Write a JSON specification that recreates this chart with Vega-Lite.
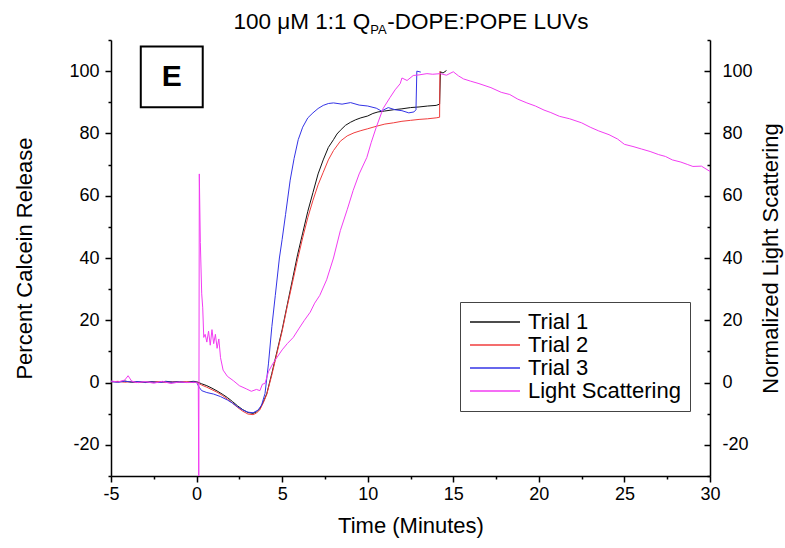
{
  "$schema": "https://vega.github.io/schema/vega-lite/v6.json",
  "width": 599,
  "height": 436,
  "autosize": {"type": "none"},
  "padding": {"left": 111, "top": 40, "right": 75, "bottom": 72},
  "background": "white",
  "config": {
    "view": {"stroke": null},
    "font": "Liberation Sans",
    "axis": {
      "grid": false,
      "domainColor": "black",
      "domainWidth": 1.5,
      "tickColor": "black",
      "tickWidth": 1.5,
      "labelColor": "black",
      "labelFontSize": 18,
      "labelFont": "Liberation Sans",
      "titleFont": "Liberation Sans",
      "titleFontSize": 22,
      "titleFontWeight": "normal",
      "titleColor": "black",
      "labelOverlap": false,
      "labelFlush": false
    }
  },
  "datasets": {
    "one": [{}],
    "curves": [
      {"series": "Trial 1", "time": -5, "value": 0.4},
      {"series": "Trial 1", "time": -4.6, "value": 0.2},
      {"series": "Trial 1", "time": -4.2, "value": 0.5},
      {"series": "Trial 1", "time": -3.8, "value": 0.1},
      {"series": "Trial 1", "time": -3.4, "value": 0.3},
      {"series": "Trial 1", "time": -3, "value": 0.0},
      {"series": "Trial 1", "time": -2.6, "value": 0.3},
      {"series": "Trial 1", "time": -2.2, "value": 0.1},
      {"series": "Trial 1", "time": -1.8, "value": 0.4},
      {"series": "Trial 1", "time": -1.4, "value": 0.2},
      {"series": "Trial 1", "time": -1, "value": 0.3},
      {"series": "Trial 1", "time": -0.6, "value": 0.1},
      {"series": "Trial 1", "time": -0.2, "value": 0.4},
      {"series": "Trial 1", "time": 0, "value": 0.3},
      {"series": "Trial 1", "time": 0.3, "value": -0.4},
      {"series": "Trial 1", "time": 0.6, "value": -1.0},
      {"series": "Trial 1", "time": 0.9, "value": -1.8},
      {"series": "Trial 1", "time": 1.2, "value": -2.7},
      {"series": "Trial 1", "time": 1.5, "value": -3.7},
      {"series": "Trial 1", "time": 1.8, "value": -4.8},
      {"series": "Trial 1", "time": 2.1, "value": -6.1},
      {"series": "Trial 1", "time": 2.4, "value": -7.5},
      {"series": "Trial 1", "time": 2.7, "value": -8.7},
      {"series": "Trial 1", "time": 3.0, "value": -9.6},
      {"series": "Trial 1", "time": 3.3, "value": -9.9},
      {"series": "Trial 1", "time": 3.5, "value": -9.4},
      {"series": "Trial 1", "time": 3.7, "value": -8.4},
      {"series": "Trial 1", "time": 3.9, "value": -6.2},
      {"series": "Trial 1", "time": 4.1, "value": -3.6},
      {"series": "Trial 1", "time": 4.4, "value": 3},
      {"series": "Trial 1", "time": 4.7, "value": 10},
      {"series": "Trial 1", "time": 5.0, "value": 17},
      {"series": "Trial 1", "time": 5.3, "value": 25},
      {"series": "Trial 1", "time": 5.6, "value": 33},
      {"series": "Trial 1", "time": 5.9, "value": 41},
      {"series": "Trial 1", "time": 6.2, "value": 48},
      {"series": "Trial 1", "time": 6.5, "value": 55},
      {"series": "Trial 1", "time": 6.8, "value": 61},
      {"series": "Trial 1", "time": 7.1, "value": 67},
      {"series": "Trial 1", "time": 7.4, "value": 71.5},
      {"series": "Trial 1", "time": 7.7, "value": 75.5},
      {"series": "Trial 1", "time": 8.0, "value": 78},
      {"series": "Trial 1", "time": 8.2, "value": 79.8},
      {"series": "Trial 1", "time": 8.4, "value": 81},
      {"series": "Trial 1", "time": 8.7, "value": 82.6},
      {"series": "Trial 1", "time": 9.0, "value": 83.6},
      {"series": "Trial 1", "time": 9.3, "value": 84.4},
      {"series": "Trial 1", "time": 9.6, "value": 85.0},
      {"series": "Trial 1", "time": 10.0, "value": 85.6},
      {"series": "Trial 1", "time": 10.3, "value": 86.4},
      {"series": "Trial 1", "time": 10.6, "value": 86.9},
      {"series": "Trial 1", "time": 11.0, "value": 87.2},
      {"series": "Trial 1", "time": 11.5, "value": 87.6},
      {"series": "Trial 1", "time": 12.0, "value": 87.9},
      {"series": "Trial 1", "time": 12.5, "value": 88.3},
      {"series": "Trial 1", "time": 13.0, "value": 88.5},
      {"series": "Trial 1", "time": 13.5, "value": 88.8},
      {"series": "Trial 1", "time": 14.0, "value": 89.0},
      {"series": "Trial 1", "time": 14.2, "value": 89.4},
      {"series": "Trial 1", "time": 14.25, "value": 99.8},
      {"series": "Trial 1", "time": 14.4, "value": 99.4},
      {"series": "Trial 1", "time": 14.6, "value": 100.2},

      {"series": "Trial 2", "time": -5, "value": 0.2},
      {"series": "Trial 2", "time": -4.6, "value": 0.4},
      {"series": "Trial 2", "time": -4.2, "value": 0.1},
      {"series": "Trial 2", "time": -3.8, "value": 0.3},
      {"series": "Trial 2", "time": -3.4, "value": 0.0},
      {"series": "Trial 2", "time": -3, "value": 0.2},
      {"series": "Trial 2", "time": -2.6, "value": 0.1},
      {"series": "Trial 2", "time": -2.2, "value": 0.3},
      {"series": "Trial 2", "time": -1.8, "value": 0.0},
      {"series": "Trial 2", "time": -1.4, "value": 0.2},
      {"series": "Trial 2", "time": -1, "value": 0.1},
      {"series": "Trial 2", "time": -0.6, "value": 0.3},
      {"series": "Trial 2", "time": -0.2, "value": 0.0},
      {"series": "Trial 2", "time": 0, "value": 0.1},
      {"series": "Trial 2", "time": 0.3, "value": -0.8},
      {"series": "Trial 2", "time": 0.6, "value": -1.5},
      {"series": "Trial 2", "time": 0.9, "value": -2.3},
      {"series": "Trial 2", "time": 1.2, "value": -3.1},
      {"series": "Trial 2", "time": 1.5, "value": -4.1},
      {"series": "Trial 2", "time": 1.8, "value": -5.3},
      {"series": "Trial 2", "time": 2.1, "value": -6.6},
      {"series": "Trial 2", "time": 2.4, "value": -8.0},
      {"series": "Trial 2", "time": 2.7, "value": -9.2},
      {"series": "Trial 2", "time": 3.0, "value": -10.1},
      {"series": "Trial 2", "time": 3.3, "value": -10.3},
      {"series": "Trial 2", "time": 3.5, "value": -9.8},
      {"series": "Trial 2", "time": 3.7, "value": -8.7},
      {"series": "Trial 2", "time": 3.9, "value": -6.5},
      {"series": "Trial 2", "time": 4.1, "value": -3.8},
      {"series": "Trial 2", "time": 4.4, "value": 2.5},
      {"series": "Trial 2", "time": 4.7, "value": 9.5},
      {"series": "Trial 2", "time": 5.0, "value": 16.5},
      {"series": "Trial 2", "time": 5.3, "value": 24.5},
      {"series": "Trial 2", "time": 5.6, "value": 32},
      {"series": "Trial 2", "time": 5.9, "value": 39.5},
      {"series": "Trial 2", "time": 6.2, "value": 46.5},
      {"series": "Trial 2", "time": 6.5, "value": 53},
      {"series": "Trial 2", "time": 6.8, "value": 58.5},
      {"series": "Trial 2", "time": 7.1, "value": 63.5},
      {"series": "Trial 2", "time": 7.4, "value": 67.5},
      {"series": "Trial 2", "time": 7.7, "value": 71.5},
      {"series": "Trial 2", "time": 8.0, "value": 74.5},
      {"series": "Trial 2", "time": 8.4, "value": 77.5},
      {"series": "Trial 2", "time": 8.8, "value": 79.2},
      {"series": "Trial 2", "time": 9.2, "value": 80.2},
      {"series": "Trial 2", "time": 9.6, "value": 80.9},
      {"series": "Trial 2", "time": 10.0, "value": 81.5},
      {"series": "Trial 2", "time": 10.5, "value": 82.3},
      {"series": "Trial 2", "time": 11.0, "value": 83},
      {"series": "Trial 2", "time": 11.5, "value": 83.4},
      {"series": "Trial 2", "time": 12.0, "value": 83.9},
      {"series": "Trial 2", "time": 12.5, "value": 84.2},
      {"series": "Trial 2", "time": 13.0, "value": 84.5},
      {"series": "Trial 2", "time": 13.5, "value": 84.7},
      {"series": "Trial 2", "time": 14.0, "value": 85},
      {"series": "Trial 2", "time": 14.2, "value": 85.2},
      {"series": "Trial 2", "time": 14.22, "value": 100},

      {"series": "Trial 3", "time": -5, "value": 0.3},
      {"series": "Trial 3", "time": -4.6, "value": 0.1},
      {"series": "Trial 3", "time": -4.2, "value": 0.4},
      {"series": "Trial 3", "time": -3.8, "value": 0.2},
      {"series": "Trial 3", "time": -3.4, "value": 0.3},
      {"series": "Trial 3", "time": -3, "value": 0.1},
      {"series": "Trial 3", "time": -2.6, "value": 0.2},
      {"series": "Trial 3", "time": -2.2, "value": 0.0},
      {"series": "Trial 3", "time": -1.8, "value": 0.3},
      {"series": "Trial 3", "time": -1.4, "value": 0.1},
      {"series": "Trial 3", "time": -1, "value": 0.2},
      {"series": "Trial 3", "time": -0.6, "value": 0.0},
      {"series": "Trial 3", "time": -0.2, "value": 0.2},
      {"series": "Trial 3", "time": 0, "value": 0.1},
      {"series": "Trial 3", "time": 0.15, "value": -1.5},
      {"series": "Trial 3", "time": 0.3, "value": -2.6},
      {"series": "Trial 3", "time": 0.6, "value": -3.2},
      {"series": "Trial 3", "time": 1.0, "value": -3.7},
      {"series": "Trial 3", "time": 1.4, "value": -4.5},
      {"series": "Trial 3", "time": 1.8, "value": -5.6},
      {"series": "Trial 3", "time": 2.1, "value": -6.6},
      {"series": "Trial 3", "time": 2.4, "value": -7.8},
      {"series": "Trial 3", "time": 2.7, "value": -8.8},
      {"series": "Trial 3", "time": 3.0, "value": -9.5},
      {"series": "Trial 3", "time": 3.3, "value": -9.7},
      {"series": "Trial 3", "time": 3.6, "value": -8.8},
      {"series": "Trial 3", "time": 3.8, "value": -7.2},
      {"series": "Trial 3", "time": 4.0, "value": -3.5},
      {"series": "Trial 3", "time": 4.2, "value": 6},
      {"series": "Trial 3", "time": 4.4, "value": 18},
      {"series": "Trial 3", "time": 4.6, "value": 28},
      {"series": "Trial 3", "time": 4.84, "value": 40},
      {"series": "Trial 3", "time": 5.0, "value": 46},
      {"series": "Trial 3", "time": 5.2, "value": 54},
      {"series": "Trial 3", "time": 5.47, "value": 65},
      {"series": "Trial 3", "time": 5.7, "value": 72},
      {"series": "Trial 3", "time": 5.94, "value": 78},
      {"series": "Trial 3", "time": 6.2, "value": 82},
      {"series": "Trial 3", "time": 6.5, "value": 85},
      {"series": "Trial 3", "time": 6.8, "value": 86.6},
      {"series": "Trial 3", "time": 7.1, "value": 88},
      {"series": "Trial 3", "time": 7.4, "value": 89},
      {"series": "Trial 3", "time": 7.7, "value": 89.6},
      {"series": "Trial 3", "time": 8.0, "value": 89.8},
      {"series": "Trial 3", "time": 8.5, "value": 89.4},
      {"series": "Trial 3", "time": 9.0, "value": 89.9},
      {"series": "Trial 3", "time": 9.5, "value": 89.1},
      {"series": "Trial 3", "time": 10.0, "value": 88.8},
      {"series": "Trial 3", "time": 10.5, "value": 88.1},
      {"series": "Trial 3", "time": 10.8, "value": 87.2},
      {"series": "Trial 3", "time": 11.2, "value": 88.3},
      {"series": "Trial 3", "time": 11.6, "value": 87.6},
      {"series": "Trial 3", "time": 12.0, "value": 87.3},
      {"series": "Trial 3", "time": 12.4, "value": 86.6},
      {"series": "Trial 3", "time": 12.7, "value": 86.9},
      {"series": "Trial 3", "time": 12.82, "value": 87.6},
      {"series": "Trial 3", "time": 12.87, "value": 100},
      {"series": "Trial 3", "time": 13.1, "value": 99.7},

      {"series": "Light Scattering", "time": -5, "value": 0.5},
      {"series": "Light Scattering", "time": -4.6, "value": 0.2},
      {"series": "Light Scattering", "time": -4.2, "value": 0.8},
      {"series": "Light Scattering", "time": -4.0, "value": 2.2},
      {"series": "Light Scattering", "time": -3.8, "value": 0.5},
      {"series": "Light Scattering", "time": -3.5, "value": 0.0},
      {"series": "Light Scattering", "time": -3.0, "value": 0.3},
      {"series": "Light Scattering", "time": -2.5, "value": -0.2},
      {"series": "Light Scattering", "time": -2.0, "value": 0.4},
      {"series": "Light Scattering", "time": -1.5, "value": -0.3},
      {"series": "Light Scattering", "time": -1.0, "value": 0.2},
      {"series": "Light Scattering", "time": -0.5, "value": 0.0},
      {"series": "Light Scattering", "time": 0.0, "value": 0.1},
      {"series": "Light Scattering", "time": 0.1, "value": -0.5},
      {"series": "Light Scattering", "time": 0.13, "value": -36},
      {"series": "Light Scattering", "time": 0.16, "value": 67},
      {"series": "Light Scattering", "time": 0.22, "value": 45},
      {"series": "Light Scattering", "time": 0.3, "value": 28.5},
      {"series": "Light Scattering", "time": 0.36, "value": 24},
      {"series": "Light Scattering", "time": 0.42, "value": 14.5},
      {"series": "Light Scattering", "time": 0.5, "value": 15.5},
      {"series": "Light Scattering", "time": 0.6, "value": 13},
      {"series": "Light Scattering", "time": 0.7, "value": 16.5},
      {"series": "Light Scattering", "time": 0.8, "value": 12},
      {"series": "Light Scattering", "time": 0.9, "value": 17},
      {"series": "Light Scattering", "time": 1.0, "value": 12.5},
      {"series": "Light Scattering", "time": 1.1, "value": 15.5},
      {"series": "Light Scattering", "time": 1.2, "value": 11},
      {"series": "Light Scattering", "time": 1.3, "value": 14},
      {"series": "Light Scattering", "time": 1.4, "value": 8},
      {"series": "Light Scattering", "time": 1.55, "value": 4},
      {"series": "Light Scattering", "time": 1.8, "value": 2},
      {"series": "Light Scattering", "time": 2.15, "value": 0.6},
      {"series": "Light Scattering", "time": 2.5, "value": -1},
      {"series": "Light Scattering", "time": 2.9, "value": -2},
      {"series": "Light Scattering", "time": 3.2, "value": -2.8},
      {"series": "Light Scattering", "time": 3.5, "value": -2.2},
      {"series": "Light Scattering", "time": 3.7, "value": -2.6},
      {"series": "Light Scattering", "time": 3.85, "value": -0.5},
      {"series": "Light Scattering", "time": 4.0, "value": -0.3},
      {"series": "Light Scattering", "time": 4.2, "value": 3.5},
      {"series": "Light Scattering", "time": 4.45, "value": 6},
      {"series": "Light Scattering", "time": 4.7, "value": 8.1},
      {"series": "Light Scattering", "time": 5.0, "value": 10.5},
      {"series": "Light Scattering", "time": 5.3, "value": 12.5},
      {"series": "Light Scattering", "time": 5.65, "value": 14.5},
      {"series": "Light Scattering", "time": 6.0, "value": 17.5},
      {"series": "Light Scattering", "time": 6.3, "value": 20},
      {"series": "Light Scattering", "time": 6.64, "value": 22.6},
      {"series": "Light Scattering", "time": 6.9, "value": 25.5},
      {"series": "Light Scattering", "time": 7.2, "value": 28},
      {"series": "Light Scattering", "time": 7.6, "value": 33},
      {"series": "Light Scattering", "time": 8.0, "value": 40},
      {"series": "Light Scattering", "time": 8.4, "value": 48.8},
      {"series": "Light Scattering", "time": 8.8, "value": 55.5},
      {"series": "Light Scattering", "time": 9.15, "value": 61.7},
      {"series": "Light Scattering", "time": 9.5, "value": 67},
      {"series": "Light Scattering", "time": 9.95, "value": 72.3},
      {"series": "Light Scattering", "time": 10.2, "value": 77},
      {"series": "Light Scattering", "time": 10.5, "value": 82},
      {"series": "Light Scattering", "time": 10.9, "value": 88},
      {"series": "Light Scattering", "time": 11.3, "value": 91.5},
      {"series": "Light Scattering", "time": 11.6, "value": 94},
      {"series": "Light Scattering", "time": 11.9, "value": 96},
      {"series": "Light Scattering", "time": 12.0, "value": 97.8},
      {"series": "Light Scattering", "time": 12.3, "value": 97},
      {"series": "Light Scattering", "time": 12.66, "value": 98.6},
      {"series": "Light Scattering", "time": 13.0, "value": 98.8},
      {"series": "Light Scattering", "time": 13.46, "value": 99.2},
      {"series": "Light Scattering", "time": 13.8, "value": 99.0},
      {"series": "Light Scattering", "time": 14.24, "value": 99.2},
      {"series": "Light Scattering", "time": 14.6, "value": 98.7},
      {"series": "Light Scattering", "time": 15.0, "value": 99.8},
      {"series": "Light Scattering", "time": 15.3, "value": 98.5},
      {"series": "Light Scattering", "time": 15.6, "value": 97.5},
      {"series": "Light Scattering", "time": 16.0, "value": 96.8},
      {"series": "Light Scattering", "time": 16.5, "value": 96},
      {"series": "Light Scattering", "time": 17.2, "value": 94.7},
      {"series": "Light Scattering", "time": 17.8, "value": 93.2},
      {"series": "Light Scattering", "time": 18.3, "value": 92.5},
      {"series": "Light Scattering", "time": 18.77, "value": 91},
      {"series": "Light Scattering", "time": 19.3, "value": 89.8},
      {"series": "Light Scattering", "time": 19.8, "value": 88.8},
      {"series": "Light Scattering", "time": 20.3, "value": 87.5},
      {"series": "Light Scattering", "time": 20.7, "value": 86.7},
      {"series": "Light Scattering", "time": 21.2, "value": 85.5},
      {"series": "Light Scattering", "time": 21.8, "value": 84.7},
      {"series": "Light Scattering", "time": 22.5, "value": 83.4},
      {"series": "Light Scattering", "time": 23.0, "value": 82},
      {"series": "Light Scattering", "time": 23.5, "value": 80.8},
      {"series": "Light Scattering", "time": 24.1, "value": 79.6},
      {"series": "Light Scattering", "time": 24.6, "value": 78.2},
      {"series": "Light Scattering", "time": 25.0, "value": 76.5},
      {"series": "Light Scattering", "time": 25.5, "value": 75.8},
      {"series": "Light Scattering", "time": 26.0, "value": 75},
      {"series": "Light Scattering", "time": 26.5, "value": 74.2},
      {"series": "Light Scattering", "time": 27.0, "value": 73.2},
      {"series": "Light Scattering", "time": 27.4, "value": 72.6},
      {"series": "Light Scattering", "time": 27.8, "value": 71.5},
      {"series": "Light Scattering", "time": 28.3, "value": 70.8},
      {"series": "Light Scattering", "time": 28.7, "value": 70},
      {"series": "Light Scattering", "time": 29.0, "value": 69.4},
      {"series": "Light Scattering", "time": 29.5, "value": 69.5},
      {"series": "Light Scattering", "time": 30.0, "value": 67.8}
    ]
  },
  "layer": [
    {
      "data": {"name": "curves"},
      "transform": [{"filter": "datum.series !== 'Light Scattering'"}],
      "mark": {"type": "line", "strokeWidth": 1, "clip": true},
      "encoding": {
        "x": {
          "field": "time", "type": "quantitative",
          "scale": {"domain": [-5, 30], "nice": false, "zero": false},
          "axis": {
            "title": "Time (Minutes)",
            "values": [-5, -2.5, 0, 2.5, 5, 7.5, 10, 12.5, 15, 17.5, 20, 22.5, 25, 27.5, 30],
            "labelExpr": "datum.value % 5 === 0 ? replace(datum.label, '\u2212', '-') : ''",
            "tickSize": {"condition": {"test": "datum.value % 5 !== 0", "value": 3}, "value": 6},
            "labelPadding": 3,
            "titlePadding": 12
          }
        },
        "y": {
          "field": "value", "type": "quantitative",
          "scale": {"domain": [-30, 110], "nice": false, "zero": false},
          "axis": {
            "title": "Percent Calcein Release",
            "values": [-30, -20, -10, 0, 10, 20, 30, 40, 50, 60, 70, 80, 90, 100, 110],
            "labelExpr": "datum.value % 20 === 0 ? replace(datum.label, '\u2212', '-') : ''",
            "tickSize": {"condition": {"test": "datum.value % 20 !== 0", "value": 3}, "value": 6},
            "labelPadding": 6,
            "titlePadding": 32
          }
        },
        "color": {
          "field": "series", "type": "nominal",
          "scale": {
            "domain": ["Trial 1", "Trial 2", "Trial 3", "Light Scattering"],
            "range": ["#111111", "#f03c3c", "#3434e6", "#f23cf2"]
          },
          "legend": {
            "orient": "none", "legendX": 349, "legendY": 262, "title": null,
            "symbolType": "M-1,0H4", "symbolSize": 400, "symbolStrokeWidth": 1.5,
            "labelFontSize": 22, "labelFont": "Liberation Sans", "labelColor": "black",
            "strokeColor": "#444444", "fillColor": "white", "padding": 9,
            "rowPadding": 1, "labelOffset": 37
          }
        }
      }
    },
    {
      "data": {"name": "curves"},
      "transform": [{"filter": "datum.series === 'Light Scattering'"}],
      "mark": {"type": "line", "strokeWidth": 1, "clip": true},
      "encoding": {
        "x": {"field": "time", "type": "quantitative", "scale": {"domain": [-5, 30], "nice": false, "zero": false}},
        "y": {
          "field": "value", "type": "quantitative",
          "scale": {"domain": [-30, 110], "nice": false, "zero": false},
          "axis": {
            "orient": "right",
            "title": "Normalized Light Scattering",
            "titleAngle": -90,
            "values": [-30, -20, -10, 0, 10, 20, 30, 40, 50, 60, 70, 80, 90, 100, 110],
            "labelExpr": "datum.value % 20 === 0 ? replace(datum.label, '\u2212', '-') : ''",
            "tickSize": {"condition": {"test": "datum.value % 20 !== 0", "value": -3}, "value": -6},
            "labelPadding": 18,
            "titlePadding": 30
          }
        },
        "color": {
          "field": "series", "type": "nominal",
          "scale": {
            "domain": ["Trial 1", "Trial 2", "Trial 3", "Light Scattering"],
            "range": ["#111111", "#f03c3c", "#3434e6", "#f23cf2"]
          }
        }
      }
    },
    {
      "data": {"name": "one"},
      "mark": {"type": "rect", "fill": "white", "stroke": "black", "strokeWidth": 2},
      "encoding": {
        "x": {"datum": -3.26, "type": "quantitative"},
        "x2": {"datum": 0.36},
        "y": {"datum": 107.9, "type": "quantitative", "scale": {"domain": [-30, 110], "nice": false, "zero": false}, "axis": null},
        "y2": {"datum": 88.4}
      }
    },
    {
      "data": {"name": "one"},
      "mark": {"type": "text", "text": "E", "fontSize": 30, "fontWeight": "bold", "font": "Liberation Sans", "align": "center", "baseline": "middle", "color": "black"},
      "encoding": {
        "x": {"datum": -1.45, "type": "quantitative"},
        "y": {"datum": 98.1, "type": "quantitative", "scale": {"domain": [-30, 110], "nice": false, "zero": false}, "axis": null}
      }
    },
    {
      "data": {"name": "one"},
      "mark": {"type": "text", "text": "100 μM 1:1 Q", "fontSize": 22.5, "font": "Liberation Sans", "align": "right", "baseline": "alphabetic", "dy": -11, "color": "black"},
      "encoding": {
        "x": {"datum": 10.15, "type": "quantitative"},
        "y": {"datum": 110, "type": "quantitative", "scale": {"domain": [-30, 110], "nice": false, "zero": false}, "axis": null}
      }
    },
    {
      "data": {"name": "one"},
      "mark": {"type": "text", "text": "PA", "fontSize": 13, "font": "Liberation Sans", "align": "left", "baseline": "alphabetic", "dy": -6, "color": "black"},
      "encoding": {
        "x": {"datum": 10.15, "type": "quantitative"},
        "y": {"datum": 110, "type": "quantitative", "scale": {"domain": [-30, 110], "nice": false, "zero": false}, "axis": null}
      }
    },
    {
      "data": {"name": "one"},
      "mark": {"type": "text", "text": "-DOPE:POPE LUVs", "fontSize": 22.5, "font": "Liberation Sans", "align": "left", "baseline": "alphabetic", "dx": 17, "dy": -11, "color": "black"},
      "encoding": {
        "x": {"datum": 10.15, "type": "quantitative"},
        "y": {"datum": 110, "type": "quantitative", "scale": {"domain": [-30, 110], "nice": false, "zero": false}, "axis": null}
      }
    }
  ],
  "resolve": {"scale": {"y": "independent"}}
}
